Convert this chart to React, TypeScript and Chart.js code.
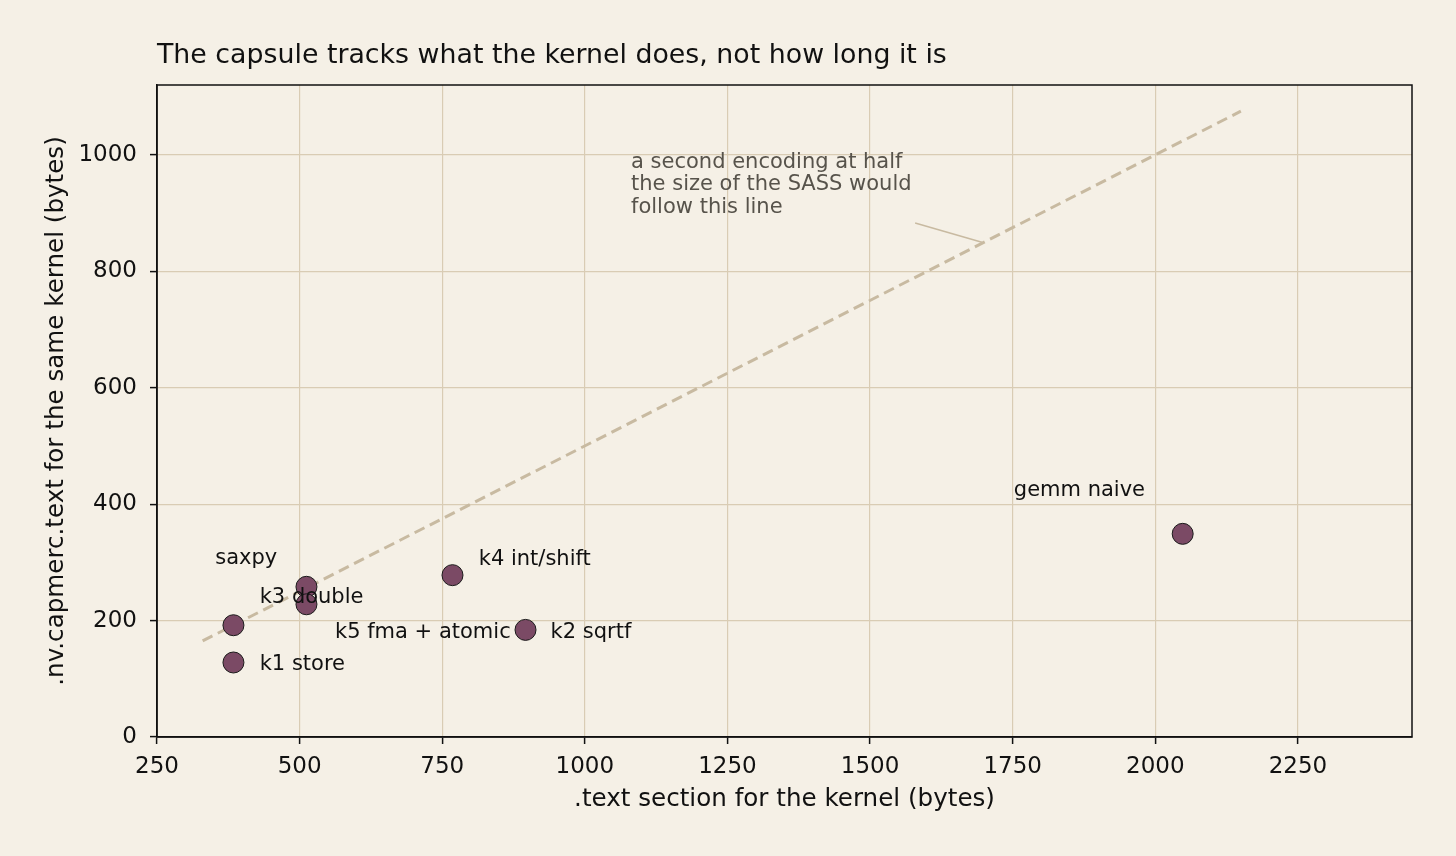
import React, { useEffect, useRef } from "react";
import { Chart, registerables } from "chart.js";

Chart.register(...registerables);

// ---- data ----
const kernelNames = ["saxpy", "k1 store", "k3 double", "k5 fma + atomic", "k4 int/shift", "k2 sqrtf", "gemm naive"];
const kernelText = [384, 384, 512, 512, 768, 896, 2048];
const kernelCapmerc = [192, 128, 258, 228, 278, 184, 349];

// label anchors (data units) for each kernel name
const labelX = [352, 430, 430, 870, 814, 940, 1752];
const labelY = [307, 124, 240, 179, 304, 179, 423];
const labelAlign = ["left", "left", "left", "right", "left", "left", "left"];

// reference line: half the size of the SASS
const refLineX = [330, 2150];
const refLineY = [165, 1075];

const xTicks = [250, 500, 750, 1000, 1250, 1500, 1750, 2000, 2250];
const yTicks = [0, 200, 400, 600, 800, 1000];

const titleText = "The capsule tracks what the kernel does, not how long it is";
const xTitle = ".text section for the kernel (bytes)";
const yTitle = ".nv.capmerc.text for the same kernel (bytes)";
const noteLines = ["a second encoding at half", "the size of the SASS would", "follow this line"];
const noteAt = [1081, 1000];
const noteArrowFrom = [1579, 883];
const noteArrowTo = [1696, 850];

const FONT = "'DejaVu Sans', 'Noto Sans', sans-serif";
const BG = "#f5f0e6";
const GRID = "#d9ccb4";
const REF = "#c8baa1";
const INK = "#111111";

export default function App() {
  const ref = useRef<HTMLCanvasElement | null>(null);

  useEffect(() => {
    const canvas = ref.current;
    if (!canvas) return;

    const decor = {
      id: "decor",
      beforeDraw(chart: any) {
        const ctx = chart.ctx;
        ctx.save();
        ctx.fillStyle = BG;
        ctx.fillRect(0, 0, chart.width, chart.height);
        ctx.restore();
      },
      afterDatasetsDraw(chart: any) {
        const ctx = chart.ctx;
        const xs = chart.scales.x;
        const ys = chart.scales.y;
        const ca = chart.chartArea;
        ctx.save();
        // arrow line for note
        ctx.strokeStyle = REF;
        ctx.lineWidth = 1.5;
        ctx.beginPath();
        ctx.moveTo(xs.getPixelForValue(noteArrowFrom[0]), ys.getPixelForValue(noteArrowFrom[1]));
        ctx.lineTo(xs.getPixelForValue(noteArrowTo[0]), ys.getPixelForValue(noteArrowTo[1]));
        ctx.stroke();

        // note text
        ctx.fillStyle = "#57534b";
        ctx.font = `21px ${FONT}`;
        ctx.textAlign = "left";
        ctx.textBaseline = "top";
        const nx = xs.getPixelForValue(noteAt[0]);
        const ny = ys.getPixelForValue(noteAt[1]) - 3;
        noteLines.forEach((l, i) => ctx.fillText(l, nx, ny + i * 22.5));

        // point labels
        ctx.fillStyle = INK;
        ctx.font = `21px ${FONT}`;
        ctx.textBaseline = "middle";
        kernelNames.forEach((n, i) => {
          ctx.textAlign = labelAlign[i] as CanvasTextAlign;
          ctx.fillText(n, xs.getPixelForValue(labelX[i]), ys.getPixelForValue(labelY[i]));
        });

        // spines
        ctx.strokeStyle = INK;
        ctx.lineWidth = 1.5;
        ctx.strokeRect(ca.left, ca.top, ca.right - ca.left, ca.bottom - ca.top);

        // title
        ctx.fillStyle = INK;
        ctx.font = `26.8px ${FONT}`;
        ctx.textAlign = "left";
        ctx.textBaseline = "middle";
        ctx.fillText(titleText, ca.left, 56);

        // axis titles
        ctx.font = `24.6px ${FONT}`;
        ctx.textAlign = "center";
        ctx.fillText(xTitle, (ca.left + ca.right) / 2, 800);
        ctx.save();
        ctx.translate(57, (ca.top + ca.bottom) / 2);
        ctx.rotate(-Math.PI / 2);
        ctx.fillText(yTitle, 0, 0);
        ctx.restore();
        ctx.restore();
      },
    };

    const chart = new Chart(canvas, {
      type: "scatter",
      data: {
        datasets: [
          {
            type: "scatter",
            data: kernelText.map((x, i) => ({ x, y: kernelCapmerc[i] })),
            pointRadius: 10.5,
            pointHoverRadius: 10.5,
            pointBackgroundColor: "#7b4a65",
            pointBorderColor: "#1a1a1a",
            pointBorderWidth: 1,
            order: 1,
          },
          {
            type: "line",
            data: refLineX.map((x, i) => ({ x, y: refLineY[i] })),
            borderColor: REF,
            borderWidth: 3,
            borderDash: [11, 6],
            pointRadius: 0,
            fill: false,
            order: 2,
          } as any,
        ],
      },
      options: {
        responsive: false,
        animation: false,
        devicePixelRatio: 1,
        layout: { padding: { left: 0, top: 85, right: 44, bottom: 0 } },
        plugins: { legend: { display: false }, tooltip: { enabled: false }, title: { display: false } },
        scales: {
          x: {
            type: "linear",
            min: 250,
            max: 2450,
            afterBuildTicks: (s: any) => {
              s.ticks = xTicks.map((v) => ({ value: v }));
            },
            afterFit: (s: any) => {
              s.height = 119;
            },
            ticks: {
              color: INK,
              font: { family: FONT, size: 23 },
              padding: 9,
              maxRotation: 0,
              autoSkip: false,
              callback: (v: any) => String(v),
            },
            grid: { color: GRID, lineWidth: 1.2, tickColor: INK, tickLength: 7, tickWidth: 1.5 },
            border: { color: INK, width: 1.5 },
          },
          y: {
            type: "linear",
            min: 0,
            max: 1120,
            afterBuildTicks: (s: any) => {
              s.ticks = yTicks.map((v) => ({ value: v }));
            },
            afterFit: (s: any) => {
              s.width = 157;
            },
            ticks: {
              color: INK,
              font: { family: FONT, size: 23 },
              padding: 13,
              autoSkip: false,
              callback: (v: any) => String(v),
            },
            grid: { color: GRID, lineWidth: 1.2, tickColor: INK, tickLength: 7, tickWidth: 1.5 },
            border: { color: INK, width: 1.5 },
          },
        },
      } as any,
      plugins: [decor],
    });

    return () => chart.destroy();
  }, []);

  return (
    <div style={{ position: "fixed", left: 0, top: 0, width: 1456, height: 856, background: BG }}>
      <canvas ref={ref} width={1456} height={856} style={{ width: 1456, height: 856, display: "block" }} />
    </div>
  );
}
